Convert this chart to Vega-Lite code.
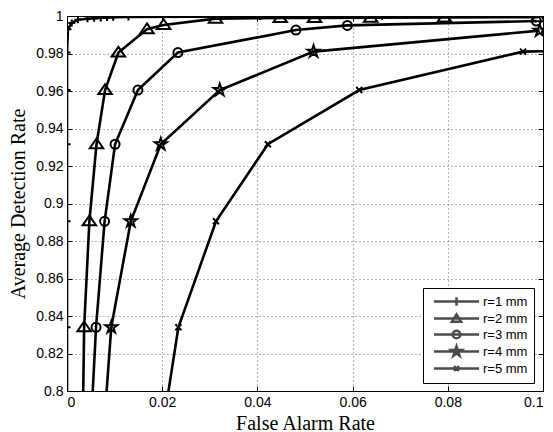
{
  "$schema": "https://vega.github.io/schema/vega-lite/v6.json",
  "autosize": "none",
  "width": 476,
  "height": 375,
  "padding": {"left": 67, "top": 16, "right": 10, "bottom": 41},
  "background": "white",
  "config": {
    "view": {"stroke": "black", "strokeWidth": 1},
    "axis": {
      "domainColor": "black", "domainWidth": 1,
      "tickColor": "black", "tickSize": -5, "tickWidth": 1,
      "labelFont": "Liberation Sans", "labelFontSize": 14, "labelColor": "black",
      "titleFont": "Liberation Serif", "titleFontSize": 20, "titleFontWeight": "normal", "titleColor": "black",
      "gridColor": "#444", "gridDash": [1, 3], "gridWidth": 1, "gridOpacity": 0.8
    }
  },
  "data": {"values": [
    {"series": "r=1 mm", "x": 0, "y": 0.75},
    {"series": "r=1 mm", "x": 0, "y": 0.834},
    {"series": "r=1 mm", "x": 0, "y": 0.8905},
    {"series": "r=1 mm", "x": 0, "y": 0.9316},
    {"series": "r=1 mm", "x": 0, "y": 0.9605},
    {"series": "r=1 mm", "x": 0, "y": 0.9805},
    {"series": "r=1 mm", "x": 0.0002, "y": 0.993},
    {"series": "r=1 mm", "x": 0.001, "y": 0.9963},
    {"series": "r=1 mm", "x": 0.0023, "y": 0.998},
    {"series": "r=1 mm", "x": 0.0043, "y": 0.9985},
    {"series": "r=1 mm", "x": 0.0057, "y": 0.9988},
    {"series": "r=1 mm", "x": 0.0071, "y": 0.999},
    {"series": "r=1 mm", "x": 0.0084, "y": 0.9992},
    {"series": "r=1 mm", "x": 0.0097, "y": 0.9993},
    {"series": "r=1 mm", "x": 0.0129, "y": 0.9995},
    {"series": "r=1 mm", "x": 0.0406, "y": 0.9998},
    {"series": "r=1 mm", "x": 0.0662, "y": 0.9999},
    {"series": "r=1 mm", "x": 0.1, "y": 1.0},
    {"series": "r=2 mm", "x": 0.0033, "y": 0.78},
    {"series": "r=2 mm", "x": 0.0036, "y": 0.834},
    {"series": "r=2 mm", "x": 0.0047, "y": 0.8905},
    {"series": "r=2 mm", "x": 0.0062, "y": 0.9316},
    {"series": "r=2 mm", "x": 0.008, "y": 0.9605},
    {"series": "r=2 mm", "x": 0.0108, "y": 0.9805},
    {"series": "r=2 mm", "x": 0.0168, "y": 0.993},
    {"series": "r=2 mm", "x": 0.0203, "y": 0.9952},
    {"series": "r=2 mm", "x": 0.0312, "y": 0.9986},
    {"series": "r=2 mm", "x": 0.0448, "y": 0.9989},
    {"series": "r=2 mm", "x": 0.052, "y": 0.999},
    {"series": "r=2 mm", "x": 0.0638, "y": 0.9991},
    {"series": "r=2 mm", "x": 0.0793, "y": 0.9992},
    {"series": "r=2 mm", "x": 0.099, "y": 0.9994},
    {"series": "r=3 mm", "x": 0.005, "y": 0.78},
    {"series": "r=3 mm", "x": 0.0061, "y": 0.834},
    {"series": "r=3 mm", "x": 0.0079, "y": 0.8905},
    {"series": "r=3 mm", "x": 0.0101, "y": 0.9316},
    {"series": "r=3 mm", "x": 0.0149, "y": 0.9605},
    {"series": "r=3 mm", "x": 0.0233, "y": 0.9805},
    {"series": "r=3 mm", "x": 0.0481, "y": 0.9925},
    {"series": "r=3 mm", "x": 0.0589, "y": 0.995},
    {"series": "r=3 mm", "x": 0.0986, "y": 0.9973},
    {"series": "r=4 mm", "x": 0.00775, "y": 0.78},
    {"series": "r=4 mm", "x": 0.0093, "y": 0.834},
    {"series": "r=4 mm", "x": 0.0134, "y": 0.8905},
    {"series": "r=4 mm", "x": 0.0197, "y": 0.9316},
    {"series": "r=4 mm", "x": 0.0321, "y": 0.9605},
    {"series": "r=4 mm", "x": 0.0518, "y": 0.981},
    {"series": "r=4 mm", "x": 0.0993, "y": 0.9922},
    {"series": "r=5 mm", "x": 0.0201, "y": 0.78},
    {"series": "r=5 mm", "x": 0.0234, "y": 0.834},
    {"series": "r=5 mm", "x": 0.0313, "y": 0.8905},
    {"series": "r=5 mm", "x": 0.0422, "y": 0.9316},
    {"series": "r=5 mm", "x": 0.0614, "y": 0.9605},
    {"series": "r=5 mm", "x": 0.0958, "y": 0.981},
    {"series": "r=5 mm", "x": 0.105, "y": 0.9815}
  ]},
  "resolve": {"scale": {"shape": "independent", "size": "independent"}, "legend": {"shape": "independent"}},
  "layer": [
    {
      "mark": {"type": "line", "color": "black", "strokeWidth": 2.6, "clip": true},
      "encoding": {
        "x": {"field": "x", "type": "quantitative", "scale": {"domain": [0, 0.1], "nice": false, "zero": false},
          "axis": {"orient": "bottom", "values": [0, 0.02, 0.04, 0.06, 0.08, 0.1], "format": ".2~f", "grid": true, "title": "False Alarm Rate", "labelPadding": 9, "titleX": 238, "titleY": 32, "titleBaseline": "middle", "titleAlign": "center"}},
        "y": {"field": "y", "type": "quantitative", "scale": {"domain": [0.8, 1], "nice": false, "zero": false},
          "axis": {"orient": "left", "values": [0.8, 0.82, 0.84, 0.86, 0.88, 0.9, 0.92, 0.94, 0.96, 0.98, 1], "format": ".2~f", "grid": true, "title": "Average Detection Rate", "labelPadding": 9, "titleX": -49, "titleY": 187.5, "titleAngle": 270, "titleBaseline": "middle", "titleAlign": "center"}},
        "detail": {"field": "series", "type": "nominal"},
        "order": {"value": null}
      }
    },
    {
      "mark": {"type": "point", "color": "black", "strokeWidth": 2, "filled": false, "opacity": 1, "clip": true},
      "encoding": {
        "x": {"field": "x", "type": "quantitative", "axis": {"orient": "top", "values": [0, 0.02, 0.04, 0.06, 0.08, 0.1], "labels": false, "grid": false, "title": null, "domain": true}},
        "y": {"field": "y", "type": "quantitative", "axis": {"orient": "right", "values": [0.8, 0.82, 0.84, 0.86, 0.88, 0.9, 0.92, 0.94, 0.96, 0.98, 1], "labels": false, "grid": false, "title": null, "domain": true}},
        "shape": {"field": "series", "type": "nominal", "legend": null,
          "scale": {"domain": ["r=1 mm", "r=2 mm", "r=3 mm", "r=4 mm", "r=5 mm"],
            "range": ["M-1,0H1M0,-1V1", "M0,-0.85L1,0.6H-1Z", "circle", "M0,-1L0.225,-0.309L0.951,-0.309L0.363,0.118L0.588,0.809L0,0.382L-0.588,0.809L-0.363,0.118L-0.951,-0.309L-0.225,-0.309Z", "M-1,-1L1,1M-1,1L1,-1"]}},
        "size": {"field": "series", "type": "nominal", "legend": null,
          "scale": {"type": "ordinal", "domain": ["r=1 mm", "r=2 mm", "r=3 mm", "r=4 mm", "r=5 mm"], "range": [49, 180, 81, 160, 36]}}
      }
    },
    {
      "transform": [{"filter": "datum.x > 1"}],
      "mark": {"type": "point", "color": "black", "strokeWidth": 2.5, "filled": false},
      "encoding": {
        "x": {"field": "x", "type": "quantitative", "axis": null},
        "y": {"field": "y", "type": "quantitative", "axis": null},
        "shape": {"field": "series", "type": "nominal",
          "scale": {"domain": ["r=1 mm", "r=2 mm", "r=3 mm", "r=4 mm", "r=5 mm"],
            "range": [
              "M-4.1,0H4.1M-0.76,0H0.76M0,-0.76V0.76",
              "M-4.1,0H4.1M0,-0.76L0.83,0.57H-0.83Z",
              "M-4.1,0H4.1M0.7,0A0.7,0.7 0 1 1 -0.7,0A0.7,0.7 0 1 1 0.7,0",
              "M-4.1,0H4.1M0,-0.95L0.214,-0.294L0.903,-0.294L0.345,0.113L0.559,0.769L0,0.364L-0.559,0.769L-0.345,0.113L-0.903,-0.294L-0.214,-0.294Z",
              "M-4.1,0H4.1M-0.45,-0.45L0.45,0.45M-0.45,0.45L0.45,-0.45"
            ]},
          "legend": {"title": null, "orient": "none", "legendX": 356, "legendY": 272, "padding": 6.5,
            "strokeColor": "black", "fillColor": "white", "cornerRadius": 0,
            "symbolSize": 121, "symbolStrokeWidth": 2.5, "symbolStrokeColor": "black", "symbolFillColor": "transparent",
            "symbolOffset": 20, "labelOffset": 19.5, "rowPadding": -3,
            "labelFont": "Liberation Sans", "labelFontSize": 13, "labelColor": "black",
            "encode": {"symbols": {"update": {"strokeWidth": {"value": 2.5}, "size": {"value": 121}}}}}}
      }
    }
  ]
}
